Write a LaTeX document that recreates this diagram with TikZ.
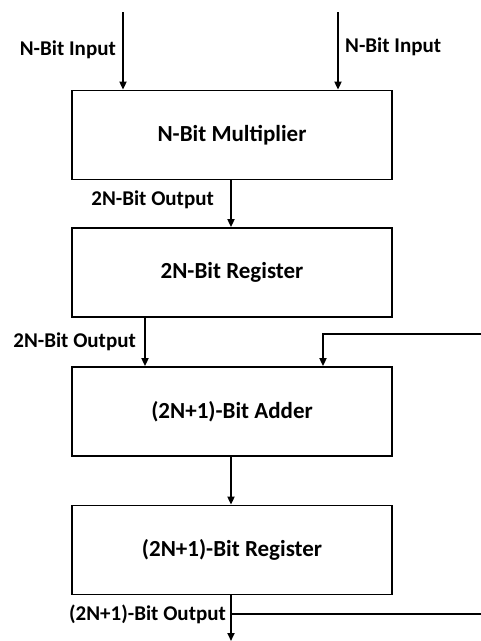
\documentclass[tikz,border=0pt]{standalone}
\usepackage{fontspec}
\setmainfont{Carlito}
\usetikzlibrary{arrows.meta, positioning}

\tikzset{
    block/.style={draw=black, line width=1.8pt, minimum width=320pt, minimum height=89pt,
        font=\fontsize{23}{26}\selectfont\bfseries},
    wire/.style={line width=1.8pt, -{Triangle[width=7pt,length=8pt]}},
    plain/.style={line width=1.8pt},
    tag/.style={font=\fontsize{21}{24}\selectfont\bfseries, inner sep=0pt}
}

\begin{document}
\begin{tikzpicture}[x=1pt, y=-1pt]
    \useasboundingbox (0,0) rectangle (481,641);

    % Blocks
    \node[block] (mult) at (232,135) {N-Bit Multiplier};
    \node[block] (regA) at (232,272.5) {2N-Bit Register};
    \node[block] (adder) at (232,411.5) {(2N+1)-Bit Adder};
    \node[block] (regB) at (232,550) {(2N+1)-Bit Register};

    % Free ends
    \coordinate (inA) at (123,12);
    \coordinate (inB) at (338,12);
    \coordinate (fb) at (481,334);
    \coordinate (out) at (231,641);
    \coordinate (tap) at (231,614);
    \coordinate (tapEnd) at (481,614);

    % Inputs
    \draw[wire] (inA) -- (inA |- mult.north);
    \draw[wire] (inB) -- (inB |- mult.north);
    \node[tag, anchor=east] (labInA) at (116,50) {N-Bit Input};
    \node[tag, anchor=west] (labInB) at (345,47) {N-Bit Input};

    % Multiplier to register
    \draw[wire] (mult.south -| tap) -- (regA.north -| tap);
    \node[tag, anchor=east] (labMul) at (214,200) {2N-Bit Output};

    % Register to adder
    \draw[wire] (regA.south -| 145,0) -- (adder.north -| 145,0);
    \node[tag, anchor=east] (labReg) at (136,342) {2N-Bit Output};

    % Feedback
    \draw[wire] (fb) -| (adder.north -| 323,0);

    % Adder to register
    \draw[wire] (adder.south -| tap) -- (regB.north -| tap);

    % Output
    \draw[wire] (regB.south -| tap) -- (out);
    \draw[plain] (tap) -- (tapEnd);
    \node[tag, anchor=east] (labOut) at (226,614) {(2N+1)-Bit Output};
\end{tikzpicture}
\end{document}
